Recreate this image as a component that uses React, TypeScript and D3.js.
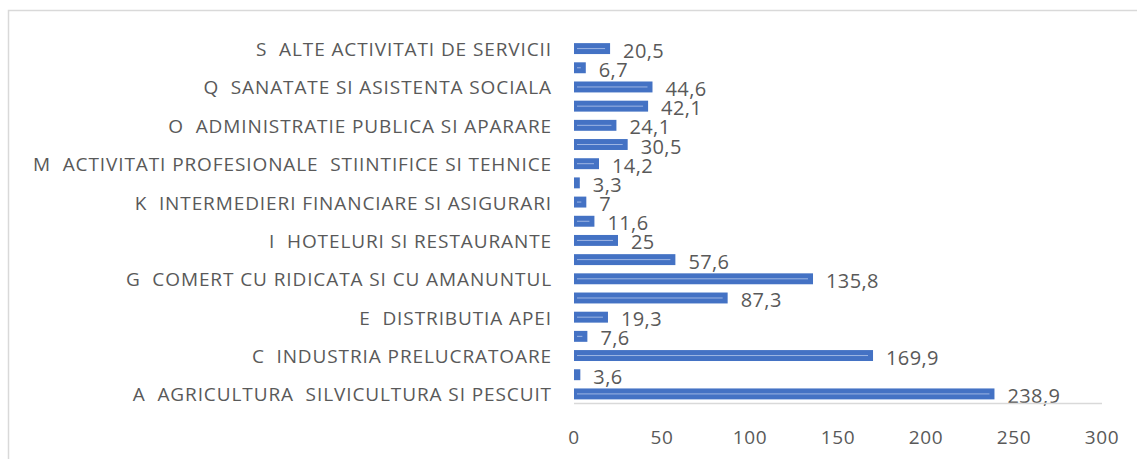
import { useEffect, useRef } from 'react';
import * as d3 from 'd3';

// categories listed from top to bottom, as in the chart
const CODES = ['S', 'R', 'Q', 'P', 'O', 'N', 'M', 'L', 'K', 'J', 'I', 'H', 'G', 'F', 'E', 'D', 'C', 'B', 'A'];
const LABELS = [
    'S  ALTE ACTIVITATI DE SERVICII', '',
    'Q  SANATATE SI ASISTENTA SOCIALA', '',
    'O  ADMINISTRATIE PUBLICA SI APARARE', '',
    'M  ACTIVITATI PROFESIONALE  STIINTIFICE SI TEHNICE', '',
    'K  INTERMEDIERI FINANCIARE SI ASIGURARI', '',
    'I  HOTELURI SI RESTAURANTE', '',
    'G  COMERT CU RIDICATA SI CU AMANUNTUL', '',
    'E  DISTRIBUTIA APEI', '',
    'C  INDUSTRIA PRELUCRATOARE', '',
    'A  AGRICULTURA  SILVICULTURA SI PESCUIT',
];
const VALUES = [20.5, 6.7, 44.6, 42.1, 24.1, 30.5, 14.2, 3.3, 7, 11.6, 25, 57.6, 135.8, 87.3, 19.3, 7.6, 169.9, 3.6, 238.9];
const TICKS = [0, 50, 100, 150, 200, 250, 300];

const W = 1137, H = 459;
const FONT = '"Open Sans", sans-serif';
const GREY = '#595959';

interface Row { code: string; label: string; value: number; }

export default function App() {
    const svgRef = useRef<SVGSVGElement>(null);

    useEffect(() => {
        if (!svgRef.current) return;
        const svg = d3.select(svgRef.current);
        svg.selectAll('*').remove();

        const data: Row[] = CODES.map((code, i) => ({ code, label: LABELS[i], value: VALUES[i] }));

        const x = d3.scaleLinear().domain([0, 300]).range([574, 1102]);
        const y = d3.scaleBand<string>().domain(CODES).range([39, 403.5])
            .paddingInner(0.43).paddingOuter(0.215);
        const bw = y.bandwidth();

        // chart border (only top & left visible)
        svg.append('rect').attr('x', 8.5).attr('y', 10.5).attr('width', W).attr('height', H)
            .attr('fill', 'none').attr('stroke', '#d9d9d9').attr('stroke-width', 1.5);

        const rows = svg.append('g').selectAll<SVGGElement, Row>('g').data(data).join('g');

        rows.append('rect')
            .attr('x', x(0)).attr('y', d => y(d.code)!)
            .attr('width', d => x(d.value) - x(0)).attr('height', bw)
            .attr('fill', '#4472c4');

        rows.filter(d => x(d.value) - x(0) > 8)
            .append('line')
            .attr('x1', x(0) + 3).attr('x2', d => x(d.value) - 5)
            .attr('y1', d => y(d.code)! + bw / 2).attr('y2', d => y(d.code)! + bw / 2)
            .attr('stroke', '#9db5e3').attr('stroke-width', 1);

        rows.append('text')
            .attr('x', d => x(d.value) + 13)
            .attr('y', d => y(d.code)! + bw / 2 + 9)
            .attr('font-family', FONT).attr('font-size', 20).attr('letter-spacing', 0.4)
            .attr('fill', GREY)
            .text(d => String(d.value).replace('.', ','));

        rows.append('text')
            .attr('x', 552).attr('y', d => y(d.code)! + bw / 2 + 7.5)
            .attr('text-anchor', 'end')
            .style('white-space', 'pre')
            .attr('font-family', FONT).attr('font-size', 19).attr('letter-spacing', 0.9)
            .attr('fill', GREY)
            .text(d => d.label);

        // axis
        svg.append('line').attr('x1', x(0)).attr('x2', x(300))
            .attr('y1', 403.5).attr('y2', 403.5)
            .attr('stroke', '#d9d9d9').attr('stroke-width', 1.5);

        svg.append('g').selectAll('text').data(TICKS).join('text')
            .attr('x', d => x(d)).attr('y', 444)
            .attr('text-anchor', 'middle')
            .attr('font-family', FONT).attr('font-size', 19).attr('letter-spacing', 0.6)
            .attr('fill', GREY)
            .text(d => d);
    }, []);

    return (
        <svg ref={svgRef} width={W} height={H}
            style={{ position: 'absolute', left: 0, top: 0, background: '#fff' }} />
    );
}
